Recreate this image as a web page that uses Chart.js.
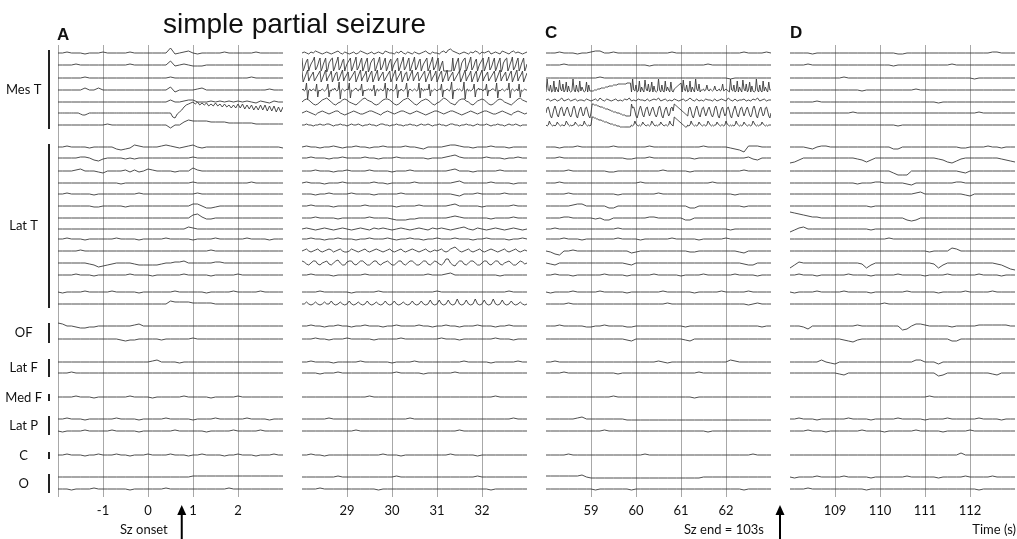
<!DOCTYPE html>
<html>
<head>
<meta charset="utf-8">
<title>simple partial seizure</title>
<script src="https://cdn.jsdelivr.net/npm/chart.js@4.4.1/dist/chart.umd.min.js"></script>
<style>
  body { margin: 0; background: #fff; }
  #wrap { position: relative; width: 1017px; height: 539px; overflow: hidden; font-family: Lato, "Open Sans", sans-serif; }
  #wrap canvas { position: absolute; left: 0; top: 0; }
  .lbl { position: absolute; white-space: nowrap; color: #111; font-size: 13px; line-height: 13px; }
  .big { font-family: "Liberation Sans", Arial, sans-serif; font-size: 28px; line-height: 28px; }
  .pan { font-family: "Liberation Sans", Arial, sans-serif; font-weight: bold; font-size: 17px; line-height: 17px; }
</style>
</head>
<body>
<div id="wrap">
  <canvas id="pA" width="1017" height="539"></canvas>
  <canvas id="pB" width="1017" height="539"></canvas>
  <canvas id="pC" width="1017" height="539"></canvas>
  <canvas id="pD" width="1017" height="539"></canvas>
  <div class="lbl big" style="left:163px;top:10px">simple partial seizure</div>
  <div class="lbl pan" style="left:57px;top:26px">A</div>
  <div class="lbl pan" style="left:545px;top:24px">C</div>
  <div class="lbl pan" style="left:790px;top:24px">D</div>
  <div class="lbl" style="left:120px;top:523px">Sz onset</div>
  <div class="lbl" style="left:684px;top:523px">Sz end = 103s</div>
  <div class="lbl" style="right:1px;top:523px">Time (s)</div>
</div>
<script>
// ---- data ----
// electrode groups, top to bottom
var groupLabels = ['Mes T', 'Lat T', 'OF', 'Lat F', 'Med F', 'Lat P', 'C', 'O'];
var groupSizes = [7, 14, 2, 2, 1, 2, 1, 2];

// time window of each panel (s) and its labelled ticks
var panelRanges = [[-2, 3], [28, 33], [58, 63], [108, 113]];
var panelTicks = [[-2, -1, 0, 1, 2], [29, 30, 31, 32], [59, 60, 61, 62], [109, 110, 111, 112]];
var panelTickLabels = [['', '-1', '0', '1', '2'], ['29', '30', '31', '32'], ['59', '60', '61', '62'], ['109', '110', '111', '112']];
var szOnsetTime = 0.75;
var szEndMark = 63.2;

// traces: one letter per sample, 'm' = 0, each letter step = 1 unit up ('n' = +1, 'l' = -1)
// samples are evenly spread over the panel window; spaces only group samples
var traceA = [
  "mmnmmmlmmm nmmmmmnmmm mmmmmrlmno mlmmmmmnmm mmmmnmmmmm m",
  "mmmmnmmmmm mmmmmmnmmm mmmmmqlmnm lllmmmmmmm mmmmmmmmmm m",
  "mmmmmmnmmm mmmmmmmmmm mmmmmnmmmm mmmmmmmmmm mmmnmmmmmm m",
  "mmmmmmommo mmmmmmmmmm mmmmmpkmmm mnommmmmmm mmmmmmmnmm m",
  "mmmmmmmmmm mmmmmmmmmm mmmmmommno ommmnmnmnm nmnmlnmlnm m",
  "mmmmmmmmmm lkklmmmmmm mmmmmmmmmm mmmmmmmmmm mmmmmmmmmm mihlnpsuvw xvxuwuwtvt wtvsvsurur vrvququptp upuototnsn s",
  "mmmmmmmmmm mnmmmmmmmm mmmmmjmmpr qqqqppppoo oooonnnnnn n",
  "mmnmmmmlmm mmmkjklonm mmmnonmlmn omlmmmmmmm mmmmmmmmmm l",
  "mmmmmnnmkj lmmmmlmlmm mmmmmmmmmm nmmmmmmmmm mmmmmmmmmm m",
  "mmmmnommml kmmmmnlnlm onmmmmlmmm pnmmmmmmmm mmmmmmmmmm m",
  "mmmmmmmmmm mmmmlmmmmm mmmmmmmmmm nmmmmmmmmm mmmnmmmmmm m",
  "mmnmmmmmlm mmmmmmmmnm mmmmmmmmmm mnmmmmmmmm mmmmmmmmmm m",
  "mmmmmmmmll mmmmmlmmmm mmmmmmmmmm oomkklmmmm mmmmmmmmmm m",
  "mmmmmmmmmm mmmmmmmmmm mmmmmmmmmm pqnllmmmmm mmmmmmmmmm m",
  "mmmmmmmmmm mmmmmmmmmm mmmmmmmmmo nmmmmmmmmm mmmmmmmmmm m",
  "mmnmmmlmmm mmmnmmmmlm mmmmnmmmmm lmmmmnmmmm mmnmmmmlmm m",
  "mmmmmnmmmm mmmmmmmmmm mmmmmmmmmm mmmmnmmmmm mmmmmmmmmm m",
  "mmmmmmmlki jklmmmmlkk kkklmmnnom mmmmmnnmmm mmmmmmmmmm m",
  "mmmmnmmmlm mmmmmmnmmm mlmmmmmmnm mmmmlmmmmm nmmmmmmmmm m",
  "mlmmmmnmmm mmnmmmmmlm mmmmmmnmmm mmmlmmmmmn mmmmmnmmmm m",
  "mmmmmmmmmm mmmmmmmmmm mmmmmpoooo nnnnnmmmmm mmmmmmmmmm m",
  "pommlkkllm mmmmmmmnom mmmmmmmmmm mmmmmmmmmm mmmmmmmmmm m",
  "mmmmmmmmmm mmmmlkllmm mmmlmmmmmm nmmmmmmmmm mmmmmmmmmm m",
  "mmmmmmmmmm mmmmmmmmmm mnommmmlmm mmmmmmmmmm mmmmmmmmmm m",
  "mmmnmmmmmm mmmmmmmmmm mmmmmmmmmm mmmmmmmmmm mmmmmmmmmm m",
  "mmmmnmmmlm mmmmmmnmmm mlmmmmmmnm mmmmlmmmmm nmmmmmmmmm m",
  "mmnmmmlmmm mmmnmmmmlm mmmmnmmmmm lmmmmnmmmm mmnmmmmlmm m",
  "mlmmmmnmmm mmnmmmmmlm mmmmmmnmmm mmmlmmmmmn mmmmmnmmmm m",
  "mmnmmmlmmn mmmnmmlmmm nmmmmnmmml mmnmmmmlmm nmmmlmmmnm m",
  "mmmmmmmmmm mmmmmmmmmm mmmmmmmmmm nnnnnnnnnn nnnnnnnnnn n",
  "mmmlmmmmnm mmmmmmlmmm mmmmnmmmmm mmmmmmmmnm mmmmmmmmmm m"
];

var traceB = [
  "mnmlnmonml mnmlmnomln mlmnlmonml mnlmnmlonm mlnmomlnml nmlmnomlnm mlnompqonm lmnmlnmonl nmnolmnmlo nmlnomnmlm n",
  "tgjnq sgknpr uhjmq tgjnq tfioqs tgjnq uhjmq sgknpr tgjnq uhjmq tgjnq tfioqs tgjnq uhjmq tgjnq sgknpr tgjnq uhjmq " +
  "tgjnq uhjmq sgknpr tgjnq uhjmq tgjnq gggggggg tgjnq tfioqs tgjnq uhjmq sgknpr tgjnq uhjmq tgjnq tfioqs tgjnq uhjmq tgjnq tgjn",
  "tilor ujmoq sjlnpr tilor ujmoq tilor sjlor ujmoq sjlnpr tilor ujmoq tilor tilor ujmoq sjlnpr tilor ujmoq tilor " +
  "sjlor ujmoq sjlnpr tilor ujmoq tilor tilor ujmoq sjlnpr tilor ujmoq tilor tilor ujmoq sjlnpr tilor ujmoq sjlor tilor ujmoq tilor",
  "mnlmtdmnlm nmlsfmlmnm lmnsfmlnmo mlmudmnmlm nmtemlmnom lnmsgmlmmn mnlmrgmnlm nmlnteomln mlmnsemlnm lmntfmnmlm " +
  "nmlmteomln mnmsgmlmnm lmnmsfmlmn mlnudmlmnm nmlmudmnlm lmnsfmmomn mlnmsgmlmn nmltemlmnm lmnmtemnml mnlsfmlmnm m",
  "mopomkjkmo pqomkjlmop omlkjlnpqo nmkjkmoppo mkjkmopqom kjlnopomkj lmoqpnlkjm oppnmkjlno pomkjkmopo mlkjlnpqon m",
  "mnonmlkmno nmlmnoomlk lmnonmllmn oonmlkmnon mlmnoonmlm nonmlklmno onmlmnoonm lklmnonmlm noonmllmno nmlkmnonml m",
  "mmnmmlmmnm mnnmlmmnmm lmnmmnmlmm nmmlmnnmml mmnmmlmmnm mlmnmmnmlm mnmmlmnnmm lmmnmmlmnm mmnmlmmnmm lmnmmnmlmm m",
  "mnmmlmmnml mmnmmlmmnm mmmnmmlkmm mmnoonmmlm mmnmmmlmmm m",
  "mmnmmmlmmn mmmmnmmlmm mnmmmmmmlm mmnopnmmmm mnmmmlmmnm m",
  "mmmnmmmlmm nmmmmnmmmm lmmmnmmmmm mmmnommmlm mmmmnmmmmm m",
  "mnmmmlmmmn mmmmmmnmml mmmmmnmmmm mmmmnommmm mmnmmmmlmm m",
  "mmmlmmnmmm mnmmmmlmmm mmnmmmmmmm mmmmlkmmmn mmmmmnmmmm m",
  "mmnmmmmlmm mmmmnmmmmm mlmmmmnmmm mmmnommmmm lmmmmmmnmm m",
  "mmmnmmmmlm mmmmmnmmmm lkkkllmmmm mmmnonmmmm mmlmmmmnmm m",
  "mnmlmnmlmn mlmnmlnmnm lmnmlmnmln mnmlmnomln mlmnmlmnml m",
  "mmnmmlmmnm mmlmmnmmmn mlmmnmmlmm nmmmnmmmlm mnmmmmlmmn m",
  "mnomlmnoml mnonlmnoml lmonmlmnom lmnonmlmno mlmnomlmno nmlmnomlmn mnomlmopqo mlmnomlmno mlmnonmlmn omlmnomlmn m",
  "onlkmoolk mnolkmopm kknoolkmo omkkmoolk mnomkkmoo lkmoomkkm oolkmonlk mqqmkjmoo lkmoomkkm oolkmoolk mnomkkmon lm",
  "mmnmmmmlmm mmmmnmmmmm mmmmmmmmnm mmnommmmmm mmmmlmmmmm m",
  "mmmmnmmmmm mlmmmmmnmm mmmmmmmmmm nmmmmmmmmm mmmmmmnmmm m",
  "mmomlmomlm ommpmlmoml mpmlmomlmp mlmomlmpml mpmlmomlmp mlmpmlmqml mqmlmqmlmr mlmqmlmrml mqmlmrmlmq mlmpmlmoml m",
  "mmnmmlmmnm mlmmnmmmlm mnmmmmnmml mmnmmlmmmn mmmlmmnmmm m",
  "mmmnmmlmmm nmmmmmlmmm mmnmmmmmmm mnmmmlmmmm mmmnmmmlmm m",
  "mmnmmmmlmm mmmnmmmmmm lmmmmnmmmm mmmmmmnmmm mmlmmmmmnm m",
  "mmmmlmmmnm mmmmmmmmmm mnmmmmmlmm mmmmnmmmmm mmmmmmmmmm m",
  "mmmmmmmmmm mmmmmnmmmm mmmmmmmmmm mmmmmmmmmm mmmnmmmmmm m",
  "mmmmmmnmmm mmmmmmmmmm mmmmnmmmmm mmmmmmmmmm mmmmmmmnmm m",
  "mmmmmmmmmm mmnmmmmmmm mmmmmmmmmm mmmmmnmmmm mmmmmmmmmm m",
  "mmnmmlmmmm mmmmmmmmnm mmlmmmmmmm mmmnmmmmml mmmmmmmmmm m",
  "mmmmmmmmnm mmmmmmmmmm mnmmmmmmmm mmmmmmmmmn mmmmmmmmmm m",
  "mmmmnmmmmm mmmmmmmlmm mmmmmmmmmm mmmmmmmmmm mmlmmmmmmm m"
];

var traceC = [
  "mmmnmmmlmm noommnmmmm mmmmmmmmnm mmmmmmmmmm mmmmnmmmmn m",
  "mmmmnmmmmm mmmmmmmmmm mmmlmmmmmm mmmmmmnmmm mmmmmmmmmm m",
  "mmmmmmmmmm mmnmmmmmmm mmmmmmmmmm mmmmmmmmmm mlmmmmmmmm m",
  "kxmlrk lvkpm kwnlsk mukqlk lxmkrl kvlpm k lukrl lllmmmnnno ooopppqqqq rrrrssssss sstttt k " +
  "xmlrk lvkpm kwnlsk mukqlk lxmkrl kvlpm kulk nopqrst k wmlrk lvkpm kxnlsk m mnlmrmlnml mqmlmnlmsl mnml " +
  "kxmlrk lvkpm kwnlsk mukqlk lxmkrl kvlpm kum m",
  "opnopnoqno pnopnoonpo nopnqonpon opnonpoqno npoonpnopo qnopnonpon opnoqonpno npoonpnopo nqonpnoopn onpoqnopno o",
  "mrsojh lqtpki nrsnj mqsoki lrtpjh mqsnj lrsojh m vvuuuttsss rrqqqppoon nnmmmllkkk jjjjj " +
  "vrsojh lqtpki nrsnj mqsoki lrtpjh mqsnj lrso vutsrqponmlk " +
  "jrsojh lqtpki nrsnj mqsoki lrtpjh mqsnj lrsojh mqtpki nrsnj mqsoki lrtpjh mqsnj lrsojh m",
  "mlmqnmlm lmpnmlmm lmqomlml mmpnmlmm lmqnmlml m uuttssrrrq qpppoonnnm mmlllkkkkk kkkkk " +
  "mlmqnmlm lmpnmlmm lmqomlml mmpnmlmm lmqnml utsrqponmlkk " +
  "mlmqnmlm lmpnmlmm lmqomlml mmpnmlmm lmqnmlml mlmqnmlm lmpnmlmm lmqomlml mmpnmlm lmmm",
  "mmmlmmmnmm mmmmmnmmmm mmmnmmmmmm mmmmmnmmmm mlkjhnnnmm m",
  "mmmnmmmmmm mmmmmmmmll mmmnmmmmmm mmmlmmmmmm mmmmmnlkmm m",
  "mmmmmnmmmm mmmmllmmmm mmmmmmnmmm mmlmmmmmmm mmmmnmmmmm m",
  "mmmnmmmmmm mmmmmmmmmm mnmmmmmmmm mmmmmmmnmm mmmmmmmmmm m",
  "mmmmmnmmmm mmmmmmlmmm mmmmmnmmmm mmmmmmmmmm mmlmmmmmmm m",
  "mmmmmmnoom mmmmkkmmmm mmmmmmmmmm mmkkmmmmmm mmmmlmmmmm m",
  "mmmmnnmmmm mlmkkmmmmm mmmnnmmmmm mkkmmmmmmm mmmmmmmmmm m",
  "mmnmmmmmmm mmmmmmnmmm mmmmmmmmmm mmmmmmmmmm mlmmmmmmmm m",
  "mmmmnmmmlm mmmmmmnmmm mlmmmmmmnm mmmmlmmmmm nmmmmmmmmm m",
  "mljimmnmmm mmmmmmmmmk lmmmmmmmmm mmllmmmmmm mmmlkmmmmm m",
  "mlkmmmmmmm mmmmmmmmlk mmmmmmmmmm mmmmmmmmmm mmmmlkkmmm m",
  "mmnmmmlmmm mmmnmmmmlm mmmmnmmmmm lmmmmnmmmm mmnmmmmlmm m",
  "mlmmmmnmmm mmnmmmmmlm mmmmmmnmmm mmmlmmmmmn mmmmmnmmmm m",
  "mmmmmnmmmm mmmmmmmmmm mmmmmmmnmm mmmmmmmmmm mmmmmlmnmm m",
  "mmmnmmmmml lmmnmmmmll mmmmmmmmmm mlmmmmmmmm mmmmmmmmlm m",
  "mmmmmmmmmm mmmmmmmmlk mmmmmmmmmm mlkmmmmmmm mmmmmmmmmm m",
  "mmnmmmmmmm mmmmmmmmmm mmmmmnmlmm mmmmmmmmmm monmmmmmmm m",
  "mmmmnmmmmm mmmmmmlmmm mmmmmmmmmm mmmmnmmmmm mmmmmmmmmm m",
  "mmmmmmmmmm mmmmmnmmmm mmmmmmmmmm mmmlmmmmmm mmmmmmmmmm m",
  "mmmmmmmnom mmmmmmmmll llllllllll llllllllll llllllllll l",
  "mmmmmmmmmm mmmnmmmmmm mmmmmmmmmm mmmmmmlmmm mmmmmmmmmm m",
  "mmmmmnmmmm mmmmmmmmmm mmnmmmmmmm mmmmmmmmmm mmmmmmnmmm m",
  "nnnnnnnnom llllllllll llllllllll lllllmmmmm mmmmmmmmmm m",
  "mmmmmmmmmm mlmmmmmmml mmmmmmmmmm mmmmmmmmmm mmmmlmmmmm m"
];

var traceD = [
  "mmmmmlmmmm mmmmmmmmmm mmmmllmmmm mmmmmmmmmm mmmmmnnmmm m",
  "mmmmnmmmmm mmmmmmmmmm mmmlmmmmmm mmmmmmnmmm mmmmmmmmmm m",
  "mmmmmmmmmm mmnmmmmmmm mmmmmmmmmm mmmmmmmmmm mlmmmmmmmm m",
  "mmmmmmmmmm mmmmmmlmmm mmmmmmmmnm mmmmmmmmmm mmmmmmmmmm m",
  "mmmmmmnmmm mmmmmmmmmm mmmmmmmmmm mmmlmmmmmm mmmmmmmmmm m",
  "mmmmmmmmmm mmmmnmmmmm mmmmmmmmmm mmmmmmmmmm mmnmmmmmmm m",
  "mmmmmmmmmm mmmmmmmmmm mmmmlmmmmm mmmmmmmmmm mmmmmmmmmm m",
  "mmmmlkmnnm mmmmmmmmmm mmmkkmmmmm mmmmmmmmll mmmmnmmlmm m",
  "hikmmmmmmm mmmmmlkikm mmmmmmmmmm mmmlkihjlm mmmmmmmlkj i",
  "mmmmmmmmmm mmmmmmmmmm mmmkiiimmm mmmmmmmmlk mmmmmmmmmm m",
  "mmmmmmmmmm mmmmmlmmmn nmmmmmlkmm mmmmmmmnnm mmmmmmmmmm m",
  "mmmmmmmmmm mmmmmmmmmm mmmmmmmmno mmmmmmmmml kmmmmmmmmm m",
  "mmmmmmmmmm mmmmmmmmlm mmmmmmmmmm mmmmmmmmmm mmmmmmmmmm m",
  "srqponnmmm mmmmmmmmmm mmmmmmkjkm mmmmmmmmmm mmmmmmmmmm m",
  "jlnommmmmm mmmmmmmmlm mmmmmmmmmm mmmmmmmmmm mmmmmmmmmm m",
  "mmmmmmmmmm mmmmmmmmmm mmnmmmmmmm mmmmmmmmmm mmmmmmmmmm m",
  "mmmmmmmmmm mmmmmmmmmm mmmmmmmmmm mlmmmmpomm mmmmmmmmmm m",
  "hknmmmmmmm mmmmmmlhkm mmmmmmmmmm mmlhkmmmmm mmmmmmlkig f",
  "mmnmmmlmmm mmmnmmmmlm mmmmnmmmmm lmmmmnmmmm mmnmmmmlmm m",
  "mlmmmmnmmm mmnmmmmmlm mmmmmmnmmm mmmlmmmmmn mmmmmnmmmm m",
  "mmmmmmmmmm mmmmmmmmmm mnmmmmmmmm mmmmmmmmmm mmmmmmmmmm m",
  "mmmljmmmmm mmmmmnmmmm mmmmmijmoo nmmmmmlmmm mmnnnnnnnm m",
  "mmmmmmmmmm mmlkjlmmmm mmmmmmmmmm mmmmmmkkmm mmmmmmmmmm m",
  "mmmmmmmoml kmmmmmmmmm mmmmmmmmoo mmmkmmmmmm mmmmmmmmmm m",
  "mmmmmmmmmm mlkmmmmmmm mmmmmmmmmm mmmjkmmmmm mmmmmlkmmm m",
  "mmmmmmmmmm mmmmmmmmmm mmmmmmmmmm mnmmmmmmmm mmmmmmmmmm m",
  "mmnmmmlmmm mmmnmmmmlm mmmmnmmmmm lmmmmnmmmm mmnmmmmlmm m",
  "mmmmnmmmlm mmmmmmnmmm mlmmmmmmnm mmmmlmmmmm nmmmmmmmmm m",
  "mmmmmmmmmm mmmmmmmmmm mmmmmmmmmm mmmmmmmmom mmmmmmmmmm m",
  "mlmmmmnmmm mmnmmmmmlm mmmmmmnmmm mmmlmmmmmn mmmmmnmmmm m",
  "mmmmnmmmmm mmmmmmmlmm mmmmmmmmmm mmmmmmmmmm mmlmmmmmmm m"
];

// ---- layout ----
var ROW_Y = [53, 65, 78, 90, 102, 113, 125,
             147, 158, 171, 183, 194, 206, 218, 229, 239, 251, 263, 275, 292, 304,
             326, 339, 362, 373, 397, 419, 431, 455, 477, 489];
var PLOT_TOP = 45, PLOT_BOTTOM = 497, W = 1017, H = 539;
var PANEL_X = [[58, 283], [302, 527], [546, 771], [790, 1015]];

function decode(s) {
  var out = [];
  for (var i = 0; i < s.length; i++) {
    if (s[i] === ' ') continue;
    out.push(s.charCodeAt(i) - 109);
  }
  return out;
}

// group extents in y units, used for the bars and the group labels
var groupSpans = [];
(function () {
  var r = 0;
  for (var g = 0; g < groupSizes.length; g++) {
    groupSpans.push([ROW_Y[r] - 3, ROW_Y[r + groupSizes[g] - 1] + 4]);
    r += groupSizes[g];
  }
})();

function drawArrow(ctx, x) {
  ctx.save();
  ctx.strokeStyle = '#000';
  ctx.fillStyle = '#000';
  ctx.lineWidth = 2;
  ctx.beginPath();
  ctx.moveTo(x, H);
  ctx.lineTo(x, 512);
  ctx.stroke();
  ctx.beginPath();
  ctx.moveTo(x - 4.5, 515);
  ctx.lineTo(x + 4.5, 515);
  ctx.lineTo(x, 505);
  ctx.closePath();
  ctx.fill();
  ctx.restore();
}

var groupDecor = {
  id: 'groupDecor',
  afterDraw: function (chart) {
    var y = chart.scales.y, ctx = chart.ctx;
    ctx.save();
    ctx.strokeStyle = '#222';
    ctx.lineWidth = 2;
    groupSpans.forEach(function (sp) {
      ctx.beginPath();
      ctx.moveTo(49, y.getPixelForValue(sp[0]));
      ctx.lineTo(49, y.getPixelForValue(sp[1]));
      ctx.stroke();
    });
    ctx.restore();
    drawArrow(ctx, chart.scales.x.getPixelForValue(szOnsetTime));
  }
};

var endArrow = {
  id: 'endArrow',
  afterDraw: function (chart) {
    drawArrow(chart.ctx, chart.scales.x.getPixelForValue(szEndMark));
  }
};

function buildPanel(id, p, traces, plugins) {
  var t0 = panelRanges[p][0], t1 = panelRanges[p][1];
  var datasets = traces.map(function (s, r) {
    var v = decode(s);
    var n = v.length;
    return {
      data: v.map(function (d, i) { return { x: t0 + (t1 - t0) * i / (n - 1), y: ROW_Y[r] - d }; }),
      borderColor: '#3a3a3a',
      borderWidth: 0.9,
      pointRadius: 0,
      tension: 0,
      fill: false
    };
  });
  var xl = PANEL_X[p][0], xr = PANEL_X[p][1];
  var yAxis = {
    type: 'linear', min: PLOT_TOP, max: PLOT_BOTTOM, reverse: true,
    display: p === 0,
    grid: { display: false, drawTicks: false },
    border: { display: false }
  };
  if (p === 0) {
    // group labels on the first panel only
    yAxis.afterBuildTicks = function (s) { s.ticks = groupSpans.map(function (sp) { return { value: (sp[0] + sp[1]) / 2 }; }); };
    yAxis.afterFit = function (s) { s.width = xl; };
    yAxis.ticks = {
      autoSkip: false, crossAlign: 'center', padding: 16, color: '#111',
      font: { family: 'Lato', size: 13 },
      callback: function (v, i) { return groupLabels[i]; }
    };
  }
  new Chart(document.getElementById(id), {
    type: 'line',
    data: { datasets: datasets },
    options: {
      responsive: false,
      animation: false,
      devicePixelRatio: 1,
      events: [],
      layout: { padding: { left: p === 0 ? 0 : xl, right: W - xr, top: PLOT_TOP, bottom: 0 } },
      plugins: { legend: { display: false }, tooltip: { enabled: false } },
      scales: {
        x: {
          type: 'linear', min: t0, max: t1,
          afterBuildTicks: function (s) { s.ticks = panelTicks[p].map(function (v) { return { value: v }; }); },
          afterFit: function (s) { s.height = H - PLOT_BOTTOM; },
          ticks: {
            autoSkip: false, maxRotation: 0, padding: 6, color: '#111',
            font: { family: 'Lato', size: 13 },
            callback: function (v, i) { return panelTickLabels[p][i]; }
          },
          grid: { color: '#a8a8a8', lineWidth: 1, drawTicks: false },
          border: { display: false }
        },
        y: yAxis
      }
    },
    plugins: plugins
  });
}

buildPanel('pA', 0, traceA, [groupDecor]);
buildPanel('pB', 1, traceB, []);
buildPanel('pC', 2, traceC, [endArrow]);
buildPanel('pD', 3, traceD, []);
</script>
</body>
</html>
